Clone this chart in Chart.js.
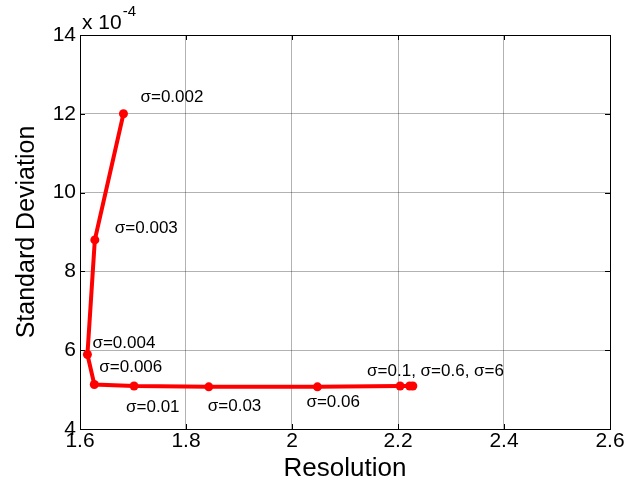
<!DOCTYPE html>
<html>
<head>
<meta charset="utf-8">
<script src="https://cdn.jsdelivr.net/npm/chart.js@4"></script>
<style>
  html, body { margin: 0; padding: 0; background: #fff; }
  #wrap { width: 627px; height: 484px; }
</style>
</head>
<body>
<div id="wrap"><canvas id="chart" width="627" height="484"></canvas></div>
<script>
// resolution vs standard deviation (x 1e-4), one point per sigma
const resolution = [1.682, 1.628, 1.614, 1.627, 1.702, 1.843, 2.048, 2.204, 2.222, 2.228];
const stdDev = [12.0, 8.8, 5.89, 5.13, 5.09, 5.07, 5.07, 5.09, 5.09, 5.09];

// label text, anchor point index, pixel offset from that point
const labelText = ['σ=0.002', 'σ=0.003', 'σ=0.004', 'σ=0.006', 'σ=0.01', 'σ=0.03', 'σ=0.06', 'σ=0.1, σ=0.6, σ=6'];
const labelIndex = [0, 1, 2, 3, 4, 5, 6, 7];
const labelOffset = [[17, -16], [20, -12], [5, -11], [5, -17], [-8, 21], [-1, 19], [-11, 15], [-33, -15]];

const xTicks = [1.6, 1.8, 2.0, 2.2, 2.4, 2.6];
const yTicks = [4, 6, 8, 10, 12, 14];

const FONT = '"Liberation Sans", Arial, Helvetica, sans-serif';

const points = resolution.map((x, i) => ({ x: x, y: stdDev[i] }));

// frame box, sigma labels, exponent text
const extras = {
  id: 'extras',
  afterDraw(chart) {
    const ctx = chart.ctx;
    const a = chart.chartArea;
    const xs = chart.scales.x, ys = chart.scales.y;
    ctx.save();
    ctx.strokeStyle = '#000';
    ctx.lineWidth = 1;
    ctx.strokeRect(a.left + 0.5, a.top + 0.5, a.right - a.left, a.bottom - a.top);

    // inward ticks on all four sides
    ctx.beginPath();
    xTicks.forEach(v => {
      const px = Math.round(xs.getPixelForValue(v)) + 0.5;
      ctx.moveTo(px, a.bottom); ctx.lineTo(px, a.bottom - 5);
      ctx.moveTo(px, a.top); ctx.lineTo(px, a.top + 5);
    });
    yTicks.forEach(v => {
      const py = Math.round(ys.getPixelForValue(v)) + 0.5;
      ctx.moveTo(a.left, py); ctx.lineTo(a.left + 5, py);
      ctx.moveTo(a.right, py); ctx.lineTo(a.right - 5, py);
    });
    ctx.stroke();

    ctx.fillStyle = '#000';
    ctx.font = '17px ' + FONT;
    ctx.textAlign = 'left';
    ctx.textBaseline = 'middle';
    labelText.forEach((t, i) => {
      const p = points[labelIndex[i]];
      const px = xs.getPixelForValue(p.x) + labelOffset[i][0];
      const py = ys.getPixelForValue(p.y) + labelOffset[i][1];
      ctx.fillText(t, px, py);
    });

    ctx.font = '21px ' + FONT;
    ctx.textBaseline = 'alphabetic';
    ctx.fillText('x 10', a.left + 2, a.top - 6);
    const w = ctx.measureText('x 10').width;
    ctx.font = '15px ' + FONT;
    ctx.fillText('-4', a.left + 2 + w + 1, a.top - 19);
    ctx.restore();
  }
};

new Chart(document.getElementById('chart'), {
  type: 'line',
  data: {
    datasets: [{
      data: points,
      borderColor: '#ff0000',
      backgroundColor: '#ff0000',
      borderWidth: 4,
      pointRadius: 4.5,
      pointBorderWidth: 0,
      pointBackgroundColor: '#ff0000',
      tension: 0,
      fill: false
    }]
  },
  options: {
    responsive: false,
    animation: false,
    layout: { padding: { top: 35, right: 17, left: 12, bottom: 0 } },
    plugins: {
      legend: { display: false },
      tooltip: { enabled: false }
    },
    scales: {
      x: {
        type: 'linear',
        min: 1.6,
        max: 2.6,
        afterBuildTicks: s => { s.ticks = xTicks.map(v => ({ value: v })); },
        afterFit: s => { s.height = 55; },
        ticks: {
          color: '#000',
          font: { family: FONT, size: 21 },
          padding: 0,
          maxRotation: 0,
          callback: v => String(Math.round(v * 10) / 10)
        },
        grid: { color: 'rgba(0,0,0,0.3)', lineWidth: 1, drawTicks: false },
        border: { display: false },
        title: {
          display: true,
          text: 'Resolution',
          color: '#000',
          font: { family: FONT, size: 26 },
          padding: { top: -6, bottom: 0 }
        }
      },
      y: {
        type: 'linear',
        min: 4,
        max: 14,
        afterBuildTicks: s => { s.ticks = yTicks.map(v => ({ value: v })); },
        afterFit: s => { s.width = 68; },
        ticks: {
          color: '#000',
          font: { family: FONT, size: 21 },
          padding: 4
        },
        grid: { color: 'rgba(0,0,0,0.3)', lineWidth: 1, drawTicks: false },
        border: { display: false },
        title: {
          display: true,
          text: 'Standard Deviation',
          color: '#000',
          font: { family: FONT, size: 25 },
          padding: { top: 0, bottom: 4 }
        }
      }
    }
  },
  plugins: [extras]
});
</script>
</body>
</html>
